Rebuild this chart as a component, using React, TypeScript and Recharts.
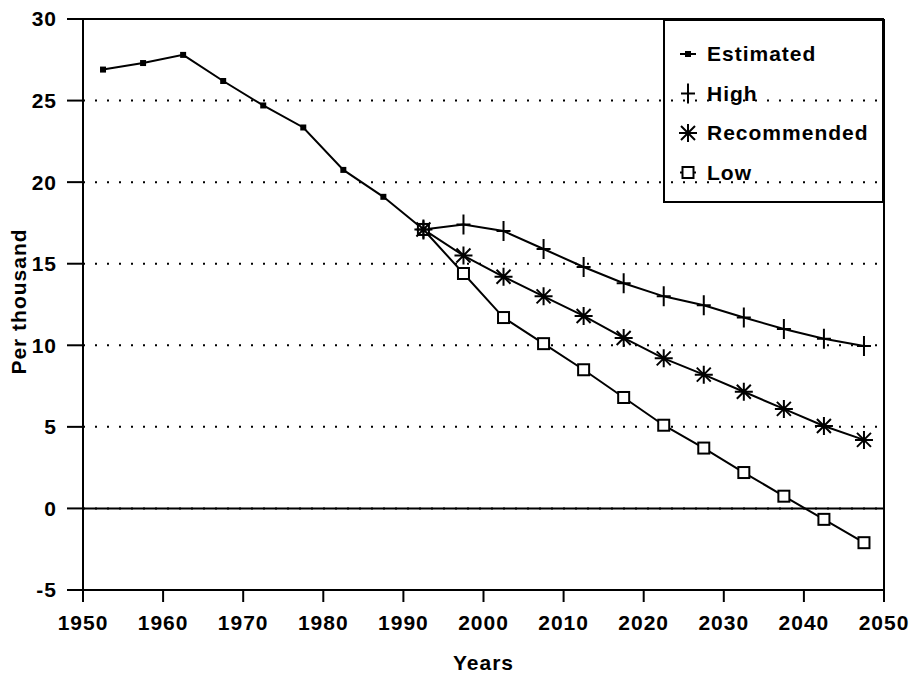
import React from 'react';
import { LineChart, Line, XAxis, YAxis, CartesianGrid, ReferenceLine } from 'recharts';

// estimated rates, 5-year midpoints
const estYears = [1952.5, 1957.5, 1962.5, 1967.5, 1972.5, 1977.5, 1982.5, 1987.5, 1992.5];
const estimated = [26.9, 27.3, 27.8, 26.2, 24.7, 23.35, 20.75, 19.1, 17.1];

// projections
const projYears = [1992.5, 1997.5, 2002.5, 2007.5, 2012.5, 2017.5, 2022.5, 2027.5, 2032.5, 2037.5, 2042.5, 2047.5];
const high = [17.1, 17.4, 17.0, 15.9, 14.8, 13.8, 13.0, 12.45, 11.7, 11.0, 10.4, 9.95];
const recommended = [17.1, 15.5, 14.2, 13.0, 11.8, 10.45, 9.2, 8.2, 7.15, 6.1, 5.05, 4.2];
const low = [17.1, 14.4, 11.7, 10.1, 8.5, 6.8, 5.1, 3.7, 2.2, 0.75, -0.67, -2.1];

const xTicks = [1950, 1960, 1970, 1980, 1990, 2000, 2010, 2020, 2030, 2040, 2050];
const yTicks = [-5, 0, 5, 10, 15, 20, 25, 30];

const estData = estYears.map((year, i) => ({ year, value: estimated[i] }));
const highData = projYears.map((year, i) => ({ year, value: high[i] }));
const recData = projYears.map((year, i) => ({ year, value: recommended[i] }));
const lowData = projYears.map((year, i) => ({ year, value: low[i] }));

const FONT = '"Liberation Sans", Arial, sans-serif';
const tickStyle = { fill: '#000', fontSize: 21, fontWeight: 700, fontFamily: FONT, letterSpacing: 1 };

// marker shapes
const SmallSquare = ({ cx, cy }: any) => (
  <rect x={cx - 3} y={cy - 3} width={6} height={6} fill="#000" />
);
const Plus = ({ cx, cy }: any) => (
  <path d={`M${cx - 7},${cy} H${cx + 7} M${cx},${cy - 10} V${cy + 10}`} stroke="#000" strokeWidth={2} fill="none" />
);
const Star = ({ cx, cy }: any) => (
  <path
    d={`M${cx},${cy - 9} V${cy + 9} M${cx - 9},${cy} H${cx + 9} M${cx - 7},${cy - 7} L${cx + 7},${cy + 7} M${cx - 7},${cy + 7} L${cx + 7},${cy - 7}`}
    stroke="#000" strokeWidth={2} fill="none"
  />
);
const OpenSquare = ({ cx, cy }: any) => (
  <rect x={cx - 5.5} y={cy - 5.5} width={11} height={11} fill="#fff" stroke="#000" strokeWidth={2} />
);

const dotOf = (Shape: any) => (props: any) => {
  const { cx, cy, index } = props;
  if (cx == null || cy == null) return <g key={`n-${index}`} />;
  return <Shape key={`d-${index}`} cx={cx} cy={cy} />;
};

const YLabel = ({ viewBox }: any) => {
  const cy = viewBox.y + viewBox.height / 2 - 3;
  return (
    <text x={18} y={cy} transform={`rotate(-90 18 ${cy})`} textAnchor="middle" dominantBaseline="central" style={tickStyle}>
      Per thousand
    </text>
  );
};

const XLabel = ({ viewBox }: any) => (
  <text x={viewBox.x + viewBox.width / 2} y={670} textAnchor="middle" style={tickStyle}>
    Years
  </text>
);

const legendItems = [
  { name: 'Estimated', Shape: SmallSquare, line: true },
  { name: 'High', Shape: Plus, line: false },
  { name: 'Recommended', Shape: Star, line: false },
  { name: 'Low', Shape: OpenSquare, line: true },
];

function ChartLegend() {
  return (
    <svg width={222} height={185} style={{ position: 'absolute', left: 663, top: 19 }}>
      <rect x={1} y={1} width={219} height={182} fill="none" stroke="#000" strokeWidth={2} />
      {legendItems.map((it, i) => {
        const base = 42 + i * 39.5;
        const cy = base - 7;
        return (
          <g key={it.name}>
            {it.line && <line x1={17} x2={33} y1={cy} y2={cy} stroke="#000" strokeWidth={2} />}
            <it.Shape cx={25} cy={cy} />
            <text x={44} y={base} style={tickStyle}>{it.name}</text>
          </g>
        );
      })}
    </svg>
  );
}

export default function App() {
  return (
    <div style={{ position: 'absolute', left: 0, top: 0, width: 916, height: 673, background: '#fff' }}>
      <LineChart width={916} height={673} margin={{ top: 19, right: 32, left: 0, bottom: 0 }}>
        <CartesianGrid vertical={false} stroke="#000" strokeWidth={2} strokeDasharray="2 10" />
        <XAxis
          type="number"
          dataKey="year"
          domain={[1950, 2050]}
          ticks={xTicks}
          allowDuplicatedCategory={false}
          height={83}
          tickSize={12}
          tickMargin={13}
          tick={tickStyle}
          axisLine={{ stroke: '#000', strokeWidth: 2 }}
          tickLine={{ stroke: '#000', strokeWidth: 2 }}
          label={<XLabel />}
        />
        <YAxis
          type="number"
          domain={[-5, 30]}
          ticks={yTicks}
          width={83}
          tickSize={16}
          tickMargin={10}
          tick={tickStyle}
          axisLine={{ stroke: '#000', strokeWidth: 2 }}
          tickLine={{ stroke: '#000', strokeWidth: 2 }}
          label={<YLabel />}
        />
        <ReferenceLine y={0} stroke="#000" strokeWidth={2} />
        <ReferenceLine y={30} stroke="#000" strokeWidth={2} />
        <ReferenceLine x={2050} stroke="#000" strokeWidth={2} />
        <Line data={estData} dataKey="value" name="Estimated" stroke="#000" strokeWidth={2} dot={dotOf(SmallSquare)} isAnimationActive={false} />
        <Line data={lowData} dataKey="value" name="Low" stroke="#000" strokeWidth={2} dot={dotOf(OpenSquare)} isAnimationActive={false} />
        <Line data={recData} dataKey="value" name="Recommended" stroke="#000" strokeWidth={2} dot={dotOf(Star)} isAnimationActive={false} />
        <Line data={highData} dataKey="value" name="High" stroke="#000" strokeWidth={2} dot={dotOf(Plus)} isAnimationActive={false} />
      </LineChart>
      <ChartLegend />
    </div>
  );
}
